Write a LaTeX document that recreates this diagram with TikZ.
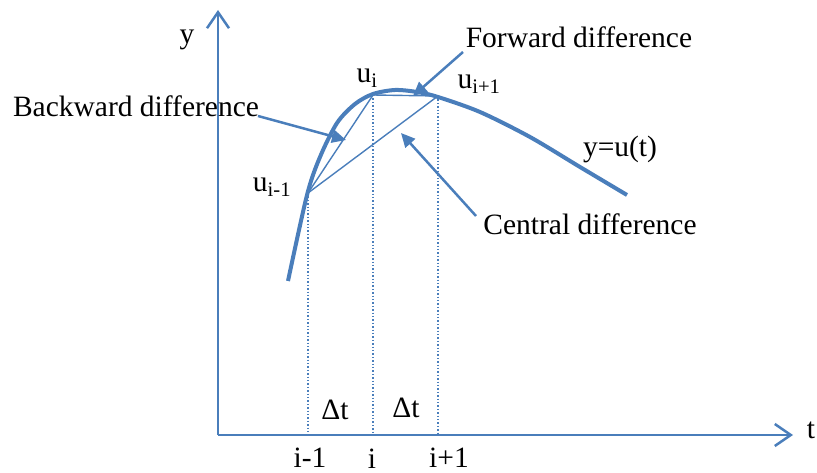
\documentclass[tikz,border=0pt]{standalone}
\usepackage{fontspec}
\setmainfont{Liberation Serif}
\usetikzlibrary{arrows.meta}
\definecolor{lineblue}{RGB}{74,126,187}
\tikzset{
    axis/.style={line width=2.5pt, lineblue, -{Straight Barb[length=16pt,width=22pt,line width=2.5pt]}},
    chord/.style={line width=1.4pt, lineblue},
    guide/.style={line width=1.4pt, lineblue, dotted},
    pointer/.style={line width=2.5pt, lineblue, -{Triangle[length=14pt,width=13pt]}},
    lbl/.style={inner sep=0pt, font=\fontsize{29.5}{34}\selectfont}
}
\begin{document}
\begin{tikzpicture}[x=1pt,y=-1pt]
    \useasboundingbox (0,0) rectangle (817,473);

    % Axes
    \coordinate (O) at (218,435);
    \coordinate (ytip) at (218,10);
    \coordinate (ttip) at (793,435);
    \draw[axis] (O) -- (ytip);
    \draw[axis] (O) -- (ttip);
    \node[lbl] (ylab) at (187,40) {y};
    \node[lbl] (tlab) at (811,430) {t};

    % Grid points
    \coordinate (uim) at (308,193);
    \coordinate (ui) at (373,95);
    \coordinate (uip) at (438,96);
    \coordinate (tim) at (308,435);
    \coordinate (ti) at (373,435);
    \coordinate (tip) at (438,435);

    % Dotted guides
    \draw[guide] (uim) -- (tim);
    \draw[guide] (ui) -- (ti);
    \draw[guide] (uip) -- (tip);

    % Curve y=u(t)
    \draw[line width=4pt, lineblue] plot[smooth, tension=0.5] coordinates
        {(288,281) (307,195) (320,157) (337,123) (355,104) (373,94) (395,90)
         (417,92) (438,97) (480,112) (530,137) (580,167) (627,195)};

    % Chords
    \draw[chord] (uim) -- (ui);
    \draw[chord] (ui) -- (uip);
    \draw[chord] (uim) -- (uip);

    % Point labels
    \node[lbl] (Lui) at (367,78) {u\textsubscript{i}};
    \node[lbl] (Luip) at (479,84) {u\textsubscript{i+1}};
    \node[lbl] (Luim) at (272,187) {u\textsubscript{i-1}};
    \node[lbl] (curve) at (620,149) {y=u(t)};

    % Axis labels
    \node[lbl, anchor=base] (Lim) at (310,467) {i-1};
    \node[lbl, anchor=base] (Li) at (372,468) {i};
    \node[lbl, anchor=base] (Lip) at (449,467) {i+1};
    \node[lbl] (dt1) at (335,410) {Δt};
    \node[lbl] (dt2) at (406,408) {Δt};

    % Difference labels and pointers
    \node[lbl] (back) at (136,106) {Backward difference};
    \node[lbl] (fwd) at (579,37) {Forward difference};
    \node[lbl] (cent) at (590,224) {Central difference};
    \coordinate (backS) at (258,116);
    \coordinate (backT) at (346,140);
    \coordinate (fwdS) at (463,52);
    \coordinate (fwdT) at (413,96);
    \coordinate (centS) at (476,216);
    \coordinate (centT) at (401,133);
    \draw[pointer] (backS) -- (backT);
    \draw[pointer] (fwdS) -- (fwdT);
    \draw[pointer] (centS) -- (centT);
\end{tikzpicture}
\end{document}
